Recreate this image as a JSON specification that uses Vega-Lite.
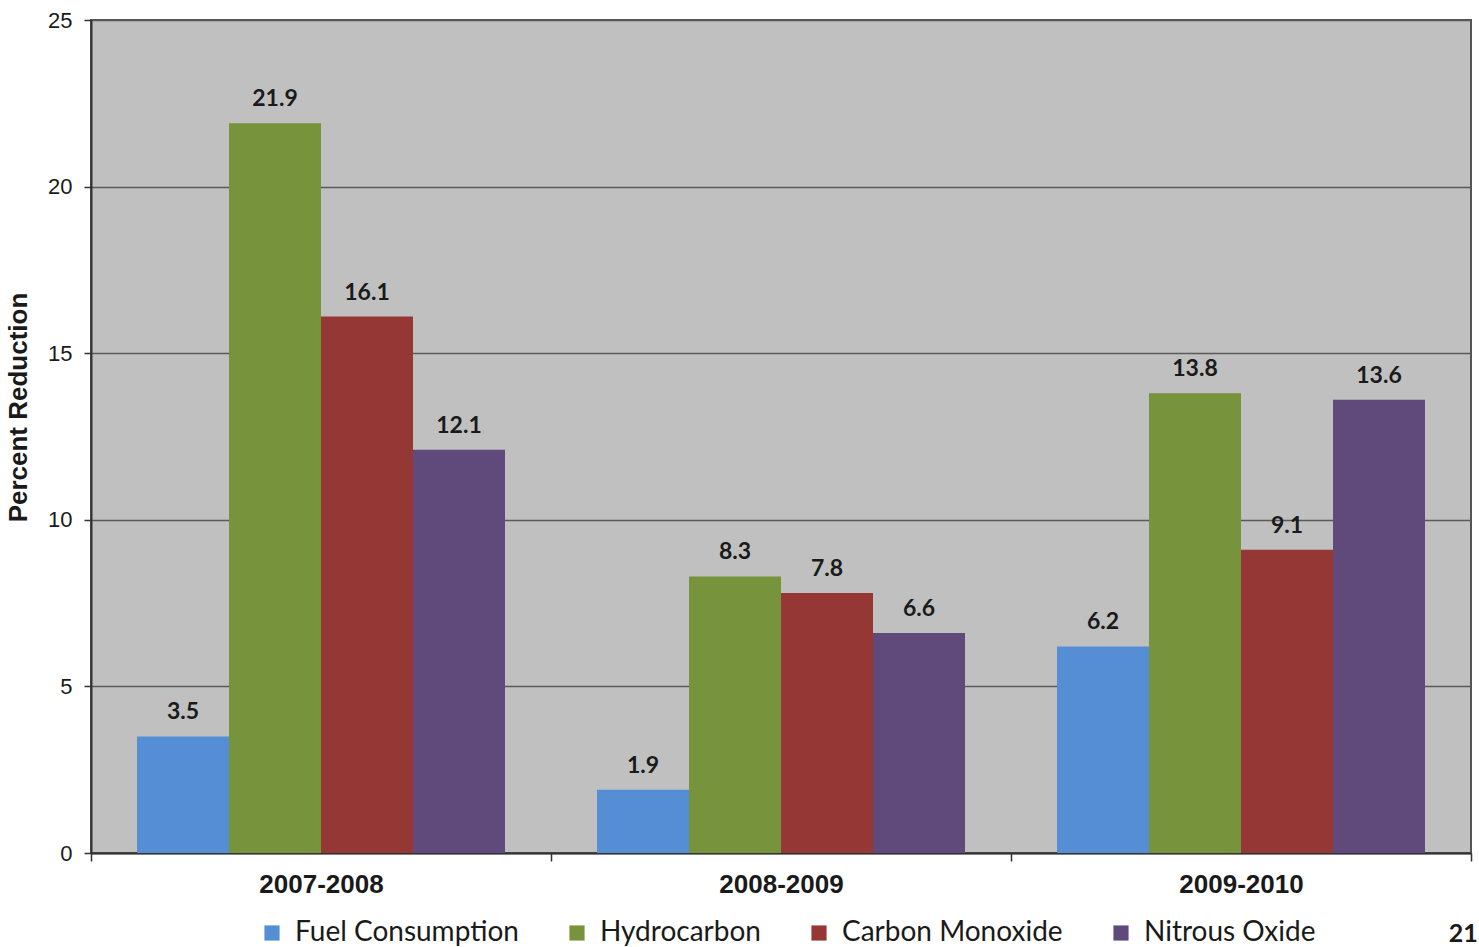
{
  "$schema": "https://vega.github.io/schema/vega-lite/v6.json",
  "width": 1380,
  "height": 833,
  "autosize": {"type": "none"},
  "padding": {"left": 91, "top": 20, "right": 8, "bottom": 94},
  "background": "white",
  "title": {
    "text": "21",
    "orient": "bottom",
    "anchor": "end",
    "font": "Lato",
    "fontSize": 25,
    "fontWeight": "bold",
    "color": "#1a1a1a",
    "offset": 0,
    "dy": -25,
    "dx": 6
  },
  "config": {
    "view": {"fill": "#c0c0c0", "stroke": "#555555", "strokeWidth": 2},
    "axis": {"domainColor": "#333333", "tickColor": "#333333"}
  },
  "data": {
    "values": [
      {"period": "2007-2008", "measure": "Fuel Consumption", "value": 3.5},
      {"period": "2007-2008", "measure": "Hydrocarbon", "value": 21.9},
      {"period": "2007-2008", "measure": "Carbon Monoxide", "value": 16.1},
      {"period": "2007-2008", "measure": "Nitrous Oxide", "value": 12.1},
      {"period": "2008-2009", "measure": "Fuel Consumption", "value": 1.9},
      {"period": "2008-2009", "measure": "Hydrocarbon", "value": 8.3},
      {"period": "2008-2009", "measure": "Carbon Monoxide", "value": 7.8},
      {"period": "2008-2009", "measure": "Nitrous Oxide", "value": 6.6},
      {"period": "2009-2010", "measure": "Fuel Consumption", "value": 6.2},
      {"period": "2009-2010", "measure": "Hydrocarbon", "value": 13.8},
      {"period": "2009-2010", "measure": "Carbon Monoxide", "value": 9.1},
      {"period": "2009-2010", "measure": "Nitrous Oxide", "value": 13.6}
    ]
  },
  "encoding": {
    "x": {
      "field": "period",
      "type": "nominal",
      "scale": {"paddingInner": 0, "paddingOuter": 0},
      "axis": {
        "title": null,
        "labelAngle": 0,
        "labelFont": "Liberation Sans",
        "labelFontSize": 26,
        "labelFontWeight": "bold",
        "labelColor": "#1a1a1a",
        "labelPadding": 10,
        "tickBand": "extent",
        "tickSize": 8,
        "tickWidth": 1.5,
        "domainWidth": 2,
        "grid": false
      }
    },
    "xOffset": {
      "field": "measure",
      "type": "nominal",
      "sort": ["Fuel Consumption", "Hydrocarbon", "Carbon Monoxide", "Nitrous Oxide"],
      "scale": {"paddingInner": 0, "paddingOuter": 0.5}
    },
    "y": {
      "field": "value",
      "type": "quantitative",
      "scale": {"domain": [0, 25], "nice": false},
      "axis": {
        "title": "Percent Reduction",
        "titleFont": "Liberation Sans",
        "titleFontSize": 26,
        "titleFontWeight": "bold",
        "titleColor": "#1a1a1a",
        "titlePadding": 16,
        "titleY": 387,
        "values": [0, 5, 10, 15, 20, 25],
        "labelFont": "Liberation Sans",
        "labelFontSize": 22,
        "labelColor": "#1a1a1a",
        "labelPadding": 12,
        "tickSize": 7,
        "tickWidth": 1.5,
        "domainWidth": 2,
        "gridColor": "#5a5a5a",
        "gridWidth": 1.5
      }
    }
  },
  "layer": [
    {
      "mark": {"type": "bar"},
      "encoding": {
        "color": {
          "field": "measure",
          "type": "nominal",
          "sort": ["Fuel Consumption", "Hydrocarbon", "Carbon Monoxide", "Nitrous Oxide"],
          "scale": {
            "domain": ["Fuel Consumption", "Hydrocarbon", "Carbon Monoxide", "Nitrous Oxide"],
            "range": ["#558ed5", "#77933c", "#953735", "#604a7b"]
          },
          "legend": {
            "title": null,
            "orient": "none",
            "direction": "horizontal",
            "legendX": 167,
            "legendY": 899,
            "symbolType": "square",
            "symbolSize": 230,
            "symbolStrokeWidth": 0,
            "labelFont": "Lato",
            "labelFontSize": 28,
            "labelColor": "#1a1a1a",
            "labelLimit": 400,
            "columnPadding": 44,
            "labelOffset": 9
          }
        }
      }
    },
    {
      "mark": {
        "type": "text",
        "baseline": "bottom",
        "dy": -12,
        "font": "Lato",
        "fontSize": 23,
        "fontWeight": "bold",
        "color": "#1a1a1a"
      },
      "encoding": {
        "text": {"field": "value", "type": "quantitative", "format": ".1f"}
      }
    }
  ]
}
